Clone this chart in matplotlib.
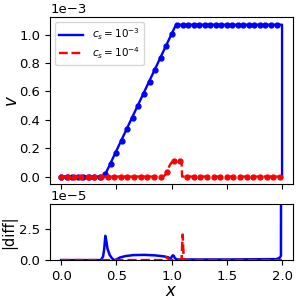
import numpy as np
import matplotlib
matplotlib.use("Agg")
from matplotlib import pyplot as plt

# marker samples (top panel)
x_blue_pts = np.round(np.arange(0, 40) * 0.05, 2)
v_blue_pts = [0, 0, 0, 0, 0, 0, 0, 0,
              0.02, 0.085, 0.168, 0.25, 0.333, 0.416, 0.50, 0.584, 0.665, 0.75, 0.835, 0.92, 1.005,
              1.07, 1.07, 1.07, 1.07, 1.07, 1.07, 1.07, 1.07, 1.07, 1.07,
              1.07, 1.07, 1.07, 1.07, 1.07, 1.07, 1.07, 1.07, 1.07]
x_red_pts = np.round(np.arange(0, 34) * 0.06, 2)
v_red_pts = [0, 0, 0, 0, 0, 0, 0, 0, 0, 0, 0, 0, 0, 0, 0, 0,
             0.035, 0.106, 0.106,
             0, 0, 0, 0, 0, 0, 0, 0, 0, 0, 0, 0, 0, 0, 0]

# solution lines (top panel), values in 1e-3
x_blue_line = [0, 0.39, 1.0, 1.04, 2.0, 2.0]
v_blue_line = [0, 0, 1.005, 1.07, 1.07, 0]
x_red_line = [0, 0.92, 0.94, 0.96, 0.98, 1.0, 1.02, 1.09, 1.095, 2.0]
v_red_line = [0, 0, 0.01, 0.035, 0.075, 0.1, 0.106, 0.106, 0, 0]

# |diff| curves (bottom panel), values in 1e-5
x_blue_diff = [0, 0.36, 0.38, 0.39, 0.40, 0.41, 0.42, 0.44, 0.46, 0.48, 0.50, 0.53, 0.58,
               0.65, 0.75, 0.85, 0.93, 0.97, 0.99, 1.0, 1.01, 1.02, 1.03, 1.05, 1.5,
               1.95, 1.98, 1.99, 2.0]
d_blue_diff = [0, 0, 0.3, 0.9, 1.95, 1.5, 0.9, 0.4, 0.15, 0.0, 0.05, 0.2, 0.32,
               0.4, 0.42, 0.38, 0.3, 0.22, 0.1, 0.25, 0.38, 0.35, 0.15, 0.05, 0.05,
               0.08, 0.2, 0.35, 80.0]
x_red_diff = [0, 0.92, 0.93, 0.95, 0.97, 0.98, 1.09, 1.10, 1.11, 2.0]
d_red_diff = [0, 0, 0.2, 0.25, 0.1, 0, 0, 2.05, 0, 0]

fig = plt.figure(figsize=(3, 3), dpi=100)
gs = fig.add_gridspec(2, 1, height_ratios=[167, 56], hspace=0.179,
                      left=0.167, right=0.977, top=0.943, bottom=0.133)
ax1 = fig.add_subplot(gs[0])
ax2 = fig.add_subplot(gs[1], sharex=ax1)

s3 = 1e-3
ax1.plot(x_blue_line, np.array(v_blue_line) * s3, 'b-', lw=1.7, label=r'$c_s=10^{-3}$')
ax1.plot(x_blue_pts, np.array(v_blue_pts) * s3, 'bo', ms=3.5)
ax1.plot(x_red_line, np.array(v_red_line) * s3, 'r--', lw=1.7, label=r'$c_s=10^{-4}$')
ax1.plot(x_red_pts, np.array(v_red_pts) * s3, 'ro', ms=3.5)
ax1.set_yticks([0, 0.2e-3, 0.4e-3, 0.6e-3, 0.8e-3, 1.0e-3])
ax1.ticklabel_format(axis='y', style='sci', scilimits=(0, 0))
ax1.set_ylabel(r'$v$', fontsize=12)
ax1.yaxis.set_label_coords(-0.12, 0.5)
ax1.tick_params(labelsize=9.5, labelbottom=False)
ax1.yaxis.get_offset_text().set_fontsize(9.5)
ax1.legend(loc='upper left', fontsize=7.5, handlelength=2.3, labelspacing=0.3)

s5 = 1e-5
ax2.plot(x_blue_diff, np.array(d_blue_diff) * s5, 'b-', lw=1.8)
ax2.plot(x_red_diff, np.array(d_red_diff) * s5, 'r--', lw=1.8)
ax2.set_ylim(0, 4.5e-5)
ax2.set_yticks([0, 2.5e-5])
ax2.set_xticks([0, 0.5, 1.0, 1.5, 2.0])
ax2.set_ylabel('|diff|', fontsize=10.5)
ax2.yaxis.set_label_coords(-0.135, 0.5)
ax2.set_xlabel(r'$x$', fontsize=12)
ax2.xaxis.set_label_coords(0.5, -0.39)
ax2.tick_params(labelsize=9.5)
ax2.yaxis.get_offset_text().set_fontsize(9.5)

plt.savefig('out.png', dpi=100)
